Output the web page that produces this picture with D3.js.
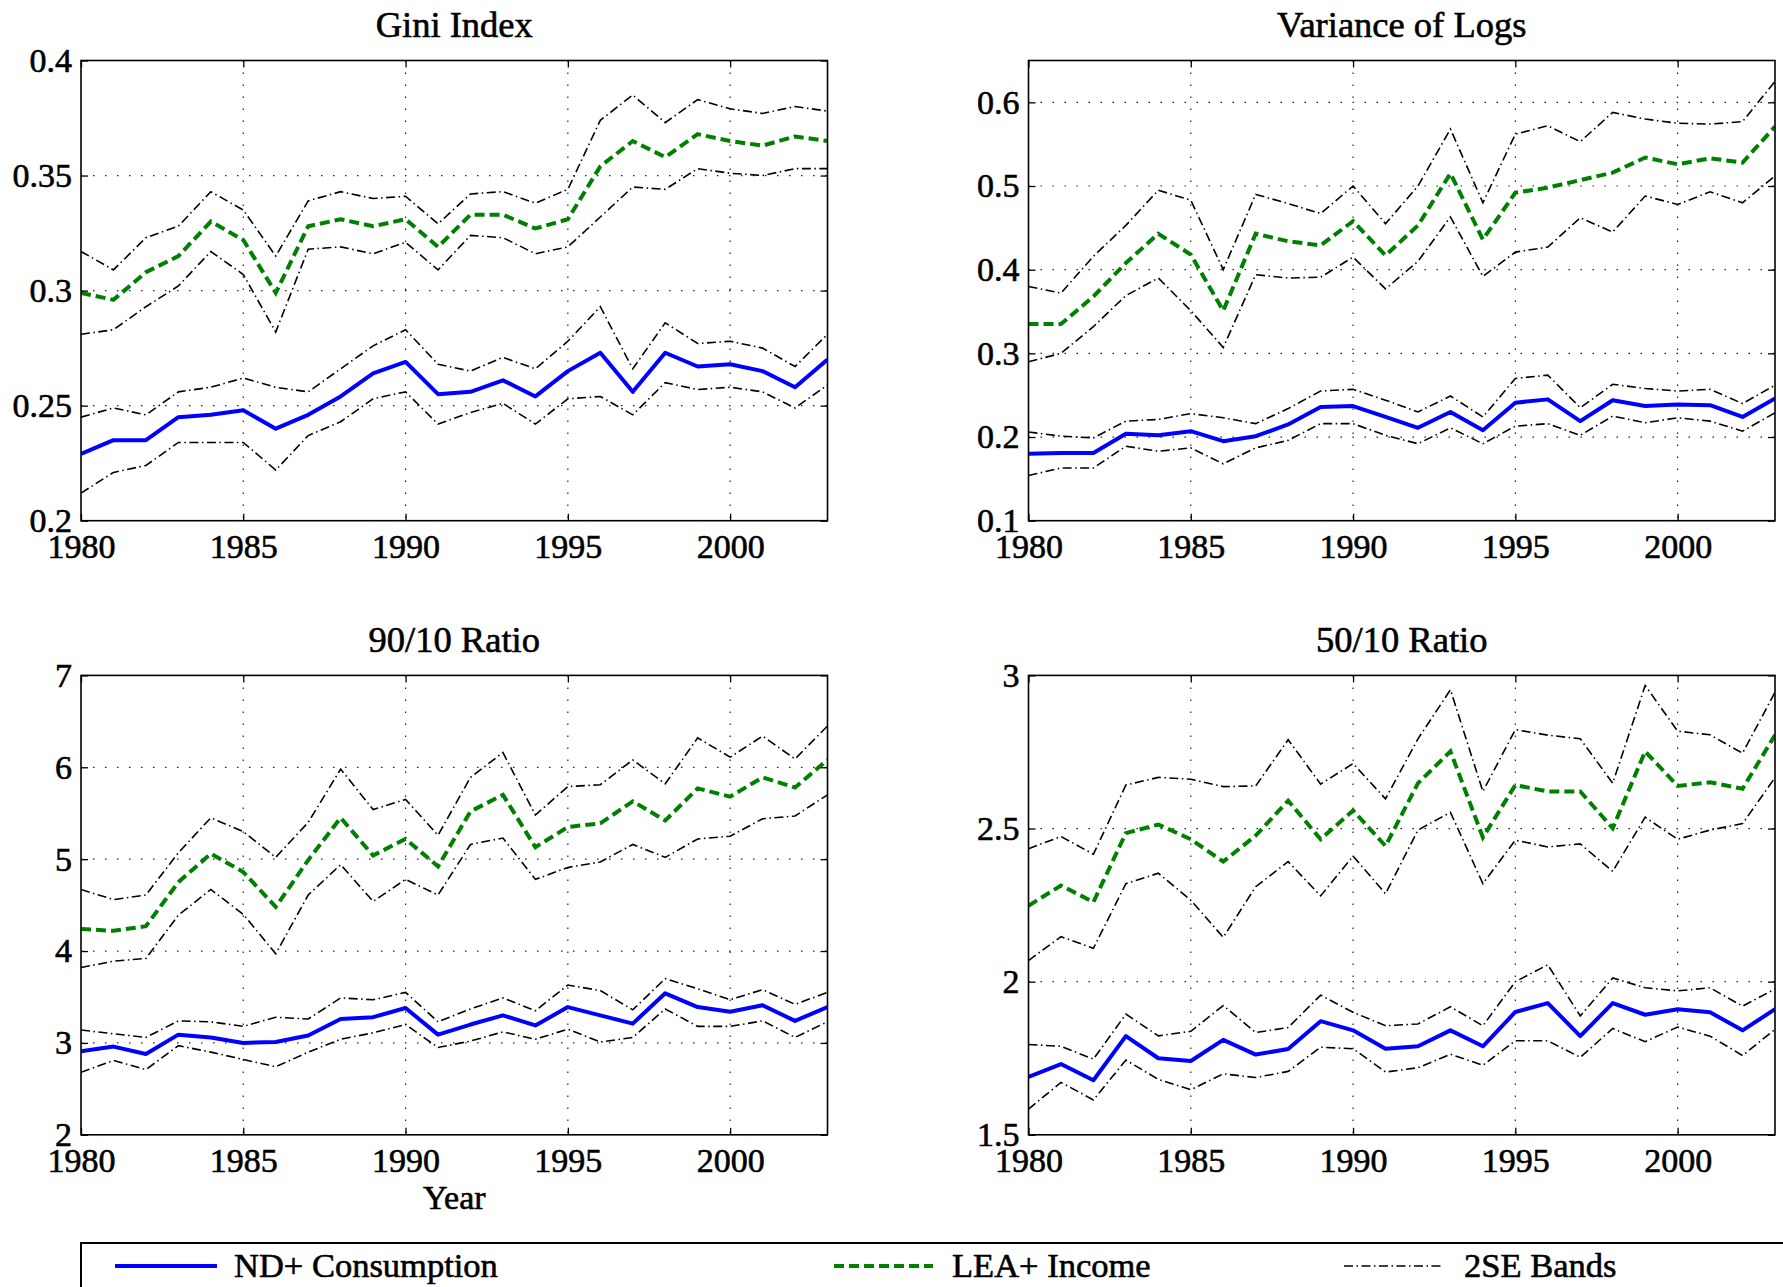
<!DOCTYPE html>
<html>
<head>
<meta charset="utf-8">
<script src="https://cdn.jsdelivr.net/npm/d3@7"></script>
<style>
  body { margin: 0; background: #fff; }
  svg { display: block; }
  text { font-family: "Liberation Serif", "Times New Roman", serif; fill: #000; stroke: #000; stroke-width: 0.6px; }
</style>
</head>
<body>
<svg id="chart" width="1783" height="1287"></svg>
<script>
// years on the x axis
const years = [1980, 1981, 1982, 1983, 1984, 1985, 1986, 1987, 1988, 1989, 1990, 1991,
               1992, 1993, 1994, 1995, 1996, 1997, 1998, 1999, 2000, 2001, 2002, 2003];
const xTicks = [1980, 1985, 1990, 1995, 2000];

// Gini index
const giniTicks = [0.2, 0.25, 0.3, 0.35, 0.4];
const giniND   = [0.229, 0.235, 0.235, 0.245, 0.246, 0.248, 0.240, 0.246, 0.254, 0.264, 0.269, 0.255,
                  0.256, 0.261, 0.254, 0.265, 0.273, 0.256, 0.273, 0.267, 0.268, 0.265, 0.258, 0.270];
const giniNDHi = [0.245, 0.249, 0.246, 0.256, 0.258, 0.262, 0.258, 0.256, 0.266, 0.276, 0.283, 0.268,
                  0.265, 0.271, 0.266, 0.278, 0.293, 0.266, 0.286, 0.277, 0.278, 0.275, 0.267, 0.281];
const giniNDLo = [0.212, 0.221, 0.224, 0.234, 0.234, 0.234, 0.222, 0.237, 0.243, 0.253, 0.256, 0.242,
                  0.247, 0.251, 0.242, 0.253, 0.254, 0.246, 0.260, 0.257, 0.258, 0.256, 0.249, 0.259];
const giniLEA   = [0.299, 0.296, 0.308, 0.315, 0.330, 0.322, 0.299, 0.328, 0.331, 0.328, 0.331, 0.319,
                   0.333, 0.333, 0.327, 0.331, 0.354, 0.365, 0.358, 0.368, 0.365, 0.363, 0.367, 0.365];
const giniLEAHi = [0.317, 0.309, 0.323, 0.328, 0.343, 0.335, 0.315, 0.339, 0.343, 0.340, 0.341, 0.329,
                   0.342, 0.343, 0.338, 0.344, 0.374, 0.385, 0.373, 0.383, 0.379, 0.377, 0.380, 0.378];
const giniLEALo = [0.281, 0.283, 0.293, 0.302, 0.317, 0.307, 0.282, 0.318, 0.319, 0.316, 0.321, 0.309,
                   0.324, 0.323, 0.316, 0.319, 0.332, 0.345, 0.344, 0.353, 0.351, 0.350, 0.353, 0.353];

// Variance of logs
const varTicks = [0.1, 0.2, 0.3, 0.4, 0.5, 0.6];
const varND   = [0.180, 0.181, 0.181, 0.204, 0.202, 0.207, 0.195, 0.201, 0.215, 0.236, 0.237, 0.224,
                 0.211, 0.230, 0.208, 0.241, 0.245, 0.219, 0.244, 0.237, 0.239, 0.238, 0.224, 0.246];
const varNDHi = [0.206, 0.201, 0.199, 0.219, 0.221, 0.228, 0.223, 0.216, 0.234, 0.255, 0.257, 0.244,
                 0.230, 0.249, 0.224, 0.270, 0.274, 0.235, 0.263, 0.258, 0.255, 0.257, 0.240, 0.262];
const varNDLo = [0.154, 0.163, 0.163, 0.189, 0.183, 0.187, 0.168, 0.187, 0.196, 0.216, 0.216, 0.202,
                 0.192, 0.211, 0.192, 0.213, 0.216, 0.202, 0.225, 0.217, 0.223, 0.219, 0.207, 0.229];
const varLEA   = [0.335, 0.335, 0.368, 0.408, 0.443, 0.418, 0.351, 0.443, 0.434, 0.429, 0.458, 0.417,
                  0.453, 0.515, 0.436, 0.492, 0.498, 0.507, 0.516, 0.534, 0.526, 0.533, 0.528, 0.571];
const varLEAHi = [0.380, 0.372, 0.416, 0.453, 0.495, 0.483, 0.400, 0.490, 0.479, 0.467, 0.500, 0.455,
                  0.500, 0.568, 0.480, 0.562, 0.572, 0.553, 0.588, 0.580, 0.575, 0.574, 0.577, 0.625];
const varLEALo = [0.290, 0.300, 0.332, 0.369, 0.390, 0.351, 0.307, 0.394, 0.390, 0.391, 0.415, 0.377,
                  0.410, 0.463, 0.392, 0.421, 0.427, 0.462, 0.445, 0.488, 0.478, 0.493, 0.480, 0.512];

// 90/10 ratio
const r9010Ticks = [2, 3, 4, 5, 6, 7];
const r9010ND   = [2.91, 2.96, 2.88, 3.09, 3.06, 3.00, 3.01, 3.08, 3.26, 3.28, 3.38, 3.09,
                   3.20, 3.30, 3.19, 3.39, 3.30, 3.21, 3.54, 3.39, 3.34, 3.41, 3.24, 3.39];
const r9010NDHi = [3.14, 3.10, 3.06, 3.24, 3.23, 3.18, 3.28, 3.26, 3.49, 3.47, 3.55, 3.23,
                   3.37, 3.49, 3.35, 3.63, 3.57, 3.36, 3.70, 3.59, 3.47, 3.58, 3.42, 3.55];
const r9010NDLo = [2.68, 2.81, 2.71, 2.97, 2.90, 2.82, 2.74, 2.90, 3.04, 3.11, 3.20, 2.95,
                   3.02, 3.12, 3.04, 3.15, 3.01, 3.06, 3.37, 3.18, 3.18, 3.24, 3.06, 3.23];
const r9010LEA   = [4.24, 4.22, 4.27, 4.75, 5.06, 4.86, 4.48, 4.99, 5.45, 5.04, 5.22, 4.92,
                    5.52, 5.70, 5.13, 5.35, 5.39, 5.63, 5.42, 5.77, 5.68, 5.89, 5.78, 6.08];
const r9010LEAHi = [4.67, 4.56, 4.61, 5.07, 5.45, 5.30, 5.02, 5.40, 5.98, 5.54, 5.65, 5.26,
                    5.89, 6.16, 5.48, 5.79, 5.81, 6.08, 5.82, 6.32, 6.11, 6.34, 6.09, 6.45];
const r9010LEALo = [3.82, 3.89, 3.92, 4.39, 4.67, 4.40, 3.97, 4.61, 4.94, 4.54, 4.78, 4.61,
                    5.16, 5.23, 4.78, 4.91, 4.97, 5.16, 5.02, 5.22, 5.25, 5.44, 5.47, 5.70];

// 50/10 ratio
const r5010Ticks = [1.5, 2, 2.5, 3];
const r5010ND   = [1.689, 1.731, 1.678, 1.822, 1.750, 1.741, 1.810, 1.762, 1.780, 1.871, 1.841, 1.781,
                   1.789, 1.841, 1.789, 1.901, 1.930, 1.822, 1.930, 1.892, 1.910, 1.900, 1.841, 1.910];
const r5010NDHi = [1.795, 1.789, 1.747, 1.894, 1.823, 1.838, 1.922, 1.834, 1.850, 1.956, 1.900, 1.856,
                   1.862, 1.918, 1.856, 2.000, 2.055, 1.888, 2.012, 1.980, 1.970, 1.980, 1.920, 1.976];
const r5010NDLo = [1.584, 1.671, 1.614, 1.744, 1.681, 1.647, 1.699, 1.687, 1.707, 1.786, 1.781, 1.705,
                   1.719, 1.763, 1.727, 1.807, 1.807, 1.753, 1.847, 1.804, 1.852, 1.822, 1.759, 1.844];
const r5010LEA   = [2.248, 2.314, 2.260, 2.485, 2.513, 2.465, 2.392, 2.477, 2.591, 2.465, 2.559, 2.443,
                    2.648, 2.752, 2.471, 2.642, 2.621, 2.621, 2.501, 2.752, 2.639, 2.651, 2.630, 2.805];
const r5010LEAHi = [2.434, 2.474, 2.416, 2.642, 2.667, 2.661, 2.637, 2.639, 2.790, 2.645, 2.712, 2.597,
                    2.793, 2.953, 2.621, 2.823, 2.805, 2.793, 2.648, 2.967, 2.818, 2.806, 2.746, 2.945];
const r5010LEALo = [2.069, 2.147, 2.109, 2.320, 2.354, 2.266, 2.145, 2.310, 2.392, 2.280, 2.410, 2.287,
                    2.495, 2.553, 2.320, 2.462, 2.440, 2.450, 2.360, 2.537, 2.465, 2.495, 2.516, 2.666];

const legendLabels = ["ND+ Consumption", "LEA+ Income", "2SE Bands"];

const blue = "#0000ff", green = "#008000";
const bandDash = "9,3.5,1.5,3.5";

const panels = [
    { title: "Gini Index", domain: [0.2, 0.4], ticks: giniTicks,
      nd: giniND, ndHi: giniNDHi, ndLo: giniNDLo, lea: giniLEA, leaHi: giniLEAHi, leaLo: giniLEALo,
      left: 81, right: 827.5, top: 60.5, bottom: 520.7 },
    { title: "Variance of Logs", domain: [0.1, 0.65], ticks: varTicks,
      nd: varND, ndHi: varNDHi, ndLo: varNDLo, lea: varLEA, leaHi: varLEAHi, leaLo: varLEALo,
      left: 1028.5, right: 1775, top: 60.5, bottom: 520.7 },
    { title: "90/10 Ratio", domain: [2, 7], ticks: r9010Ticks, xlabel: "Year",
      nd: r9010ND, ndHi: r9010NDHi, ndLo: r9010NDLo, lea: r9010LEA, leaHi: r9010LEAHi, leaLo: r9010LEALo,
      left: 81, right: 827.5, top: 675.4, bottom: 1134.8 },
    { title: "50/10 Ratio", domain: [1.5, 3], ticks: r5010Ticks,
      nd: r5010ND, ndHi: r5010NDHi, ndLo: r5010NDLo, lea: r5010LEA, leaHi: r5010LEAHi, leaLo: r5010LEALo,
      left: 1028.5, right: 1775, top: 675.4, bottom: 1134.8 }
];

const svg = d3.select("#chart");

function drawPanel(p, idx) {
    const w = p.right - p.left;
    const h = p.bottom - p.top;
    const g = svg.append("g").attr("transform", `translate(${p.left},${p.top})`);

    const x = d3.scaleLinear().domain([1980, 2003]).range([0, w]);
    const y = d3.scaleLinear().domain(p.domain).range([h, 0]);

    g.append("clipPath").attr("id", `clip-${idx}`)
        .append("rect").attr("width", w).attr("height", h);

    // dotted grid
    g.append("g").selectAll("line")
        .data(xTicks.filter(d => d > 1980))
        .join("line")
        .attr("x1", d => x(d)).attr("x2", d => x(d))
        .attr("y1", 0).attr("y2", h)
        .attr("stroke", "#222").attr("stroke-width", 1.2)
        .attr("stroke-dasharray", "1.5,10.5");
    g.append("g").selectAll("line")
        .data(p.ticks.filter(d => d > p.domain[0] && d < p.domain[1]))
        .join("line")
        .attr("x1", 0).attr("x2", w)
        .attr("y1", d => y(d)).attr("y2", d => y(d))
        .attr("stroke", "#222").attr("stroke-width", 1.2)
        .attr("stroke-dasharray", "1.5,10.5");

    const line = d3.line()
        .x((d, i) => x(years[i]))
        .y(d => y(d));

    const plot = g.append("g").attr("clip-path", `url(#clip-${idx})`);

    // 2SE bands
    plot.selectAll("path.band")
        .data([p.leaHi, p.leaLo, p.ndHi, p.ndLo])
        .join("path")
        .attr("class", "band")
        .attr("fill", "none")
        .attr("stroke", "#000")
        .attr("stroke-width", 1.6)
        .attr("stroke-dasharray", bandDash)
        .attr("d", line);

    plot.append("path")
        .datum(p.lea)
        .attr("fill", "none")
        .attr("stroke", green)
        .attr("stroke-width", 4)
        .attr("stroke-dasharray", "10,5")
        .attr("d", line);

    plot.append("path")
        .datum(p.nd)
        .attr("fill", "none")
        .attr("stroke", blue)
        .attr("stroke-width", 4)
        .attr("stroke-linejoin", "round")
        .attr("d", line);

    // axes with inward ticks
    const bottomAxis = g.append("g")
        .attr("transform", `translate(0,${h})`)
        .call(d3.axisBottom(x).tickValues(xTicks).tickFormat(d3.format("d"))
            .tickSizeInner(-7).tickSizeOuter(0).tickPadding(13));
    const leftAxis = g.append("g")
        .call(d3.axisLeft(y).tickValues(p.ticks).tickFormat(d => String(d))
            .tickSizeInner(-7).tickSizeOuter(0).tickPadding(9));
    g.append("g")
        .call(d3.axisTop(x).tickValues(xTicks).tickFormat("")
            .tickSizeInner(-7).tickSizeOuter(0));
    g.append("g")
        .attr("transform", `translate(${w},0)`)
        .call(d3.axisRight(y).tickValues(p.ticks).tickFormat("")
            .tickSizeInner(-7).tickSizeOuter(0));

    g.selectAll(".domain").remove();
    g.selectAll(".tick line").attr("stroke", "#000").attr("stroke-width", 1.3);
    [bottomAxis, leftAxis].forEach(a => a.attr("font-size", 34).attr("font-family", null));

    g.append("rect")
        .attr("width", w).attr("height", h)
        .attr("fill", "none")
        .attr("stroke", "#000")
        .attr("stroke-width", 1.6);

    g.append("text")
        .attr("x", w / 2).attr("y", -23.5)
        .attr("text-anchor", "middle")
        .attr("font-size", 36.5)
        .text(p.title);

    if (p.xlabel) {
        g.append("text")
            .attr("x", w / 2).attr("y", h + 74)
            .attr("text-anchor", "middle")
            .attr("font-size", 34)
            .text(p.xlabel);
    }
}

panels.forEach(drawPanel);

// legend
const legend = svg.append("g");
legend.append("rect")
    .attr("x", 81).attr("y", 1243)
    .attr("width", 1800).attr("height", 100)
    .attr("fill", "#fff")
    .attr("stroke", "#000")
    .attr("stroke-width", 2);

const legendItems = [
    { label: legendLabels[0], color: blue, width: 4, dash: null, x1: 115, x2: 217, tx: 234 },
    { label: legendLabels[1], color: green, width: 4, dash: "10,5", x1: 834, x2: 933, tx: 952 },
    { label: legendLabels[2], color: "#000", width: 1.6, dash: bandDash, x1: 1344, x2: 1444, tx: 1464 }
];

const item = legend.selectAll("g.item")
    .data(legendItems)
    .join("g")
    .attr("class", "item");
item.append("line")
    .attr("x1", d => d.x1).attr("x2", d => d.x2)
    .attr("y1", 1266).attr("y2", 1266)
    .attr("stroke", d => d.color)
    .attr("stroke-width", d => d.width)
    .attr("stroke-dasharray", d => d.dash);
item.append("text")
    .attr("x", d => d.tx).attr("y", 1277)
    .attr("font-size", 34.5)
    .text(d => d.label);
</script>
</body>
</html>
